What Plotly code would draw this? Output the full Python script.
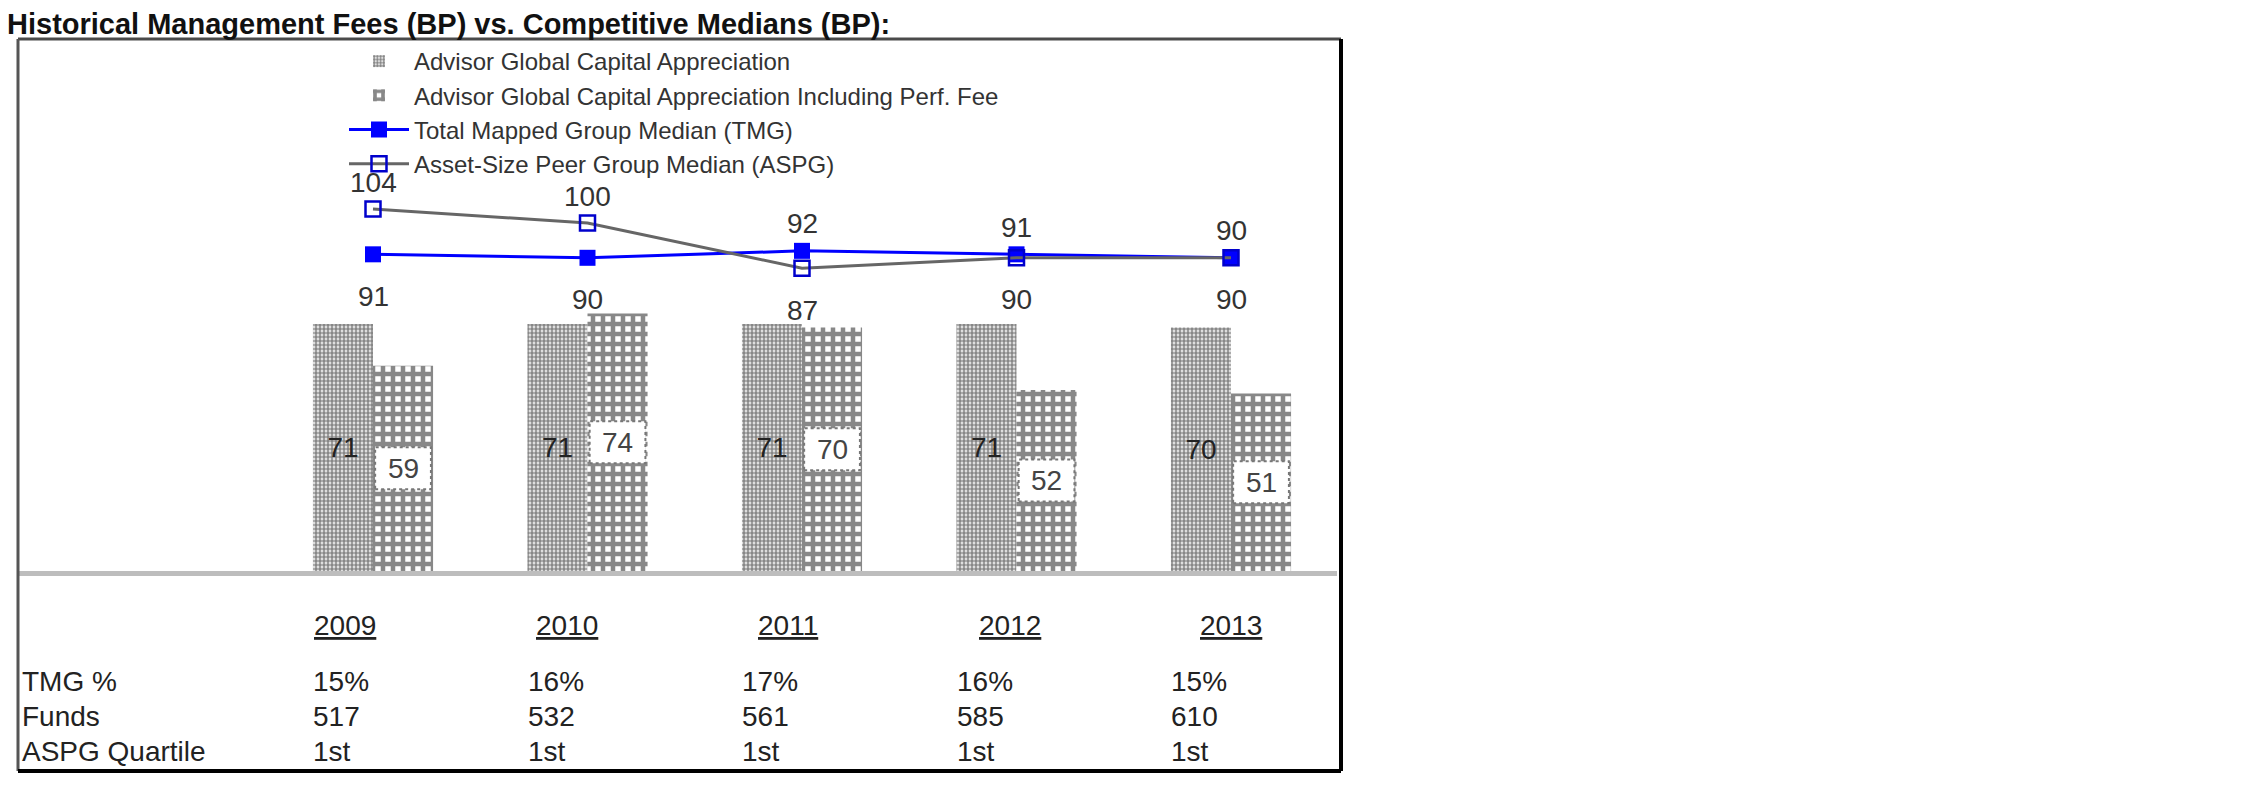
import plotly.graph_objects as go

# ---------------- data ----------------
years = ["2009", "2010", "2011", "2012", "2013"]
agca = [71, 71, 71, 71, 70]                 # Advisor Global Capital Appreciation
agca_perf = [59, 74, 70, 52, 51]            # ... Including Perf. Fee
tmg_median = [91, 90, 92, 91, 90]           # Total Mapped Group Median
aspg_median = [104, 100, 87, 90, 90]        # Asset-Size Peer Group Median
tmg_pct = ["15%", "16%", "17%", "16%", "15%"]
funds = ["517", "532", "561", "585", "610"]
aspg_quartile = ["1st", "1st", "1st", "1st", "1st"]
row_labels = ["TMG %", "Funds", "ASPG Quartile"]

FONT = "Liberation Sans, Arial, sans-serif"
PAGE_W, PAGE_H = 2250, 796
OFF = 8                       # default body margin of the html page
W, H = PAGE_W - 2 * OFF, PAGE_H - 2 * OFF

# frame in page pixels (layout only)
box_l, box_r, box_t, box_b = 18, 1341, 39, 771
plot_r, base_y = 1337, 571
px_per_cat, first_center = 214.5, 373
px_per_unit = 3.48

bw = box_r - box_l
bh = box_b - box_t
def py(y):  # page pixel y -> paper y
    return (box_b - y) / bh
def pxp(x):  # page pixel x -> paper x
    return (x - box_l) / bw

xs = list(range(len(years)))
x_lo = -(first_center - box_l) / px_per_cat
x_hi = (plot_r - first_center) / px_per_cat
y_hi = (base_y - box_t) / px_per_unit

fig = go.Figure()

fig.add_trace(go.Bar(
    x=xs, y=agca, name="Advisor Global Capital Appreciation",
    marker=dict(color="white", line=dict(width=0),
                pattern=dict(shape=".", fgcolor="#111111", bgcolor="white",
                             size=4, solidity=0.7)),
    text=[str(v) for v in agca], textposition="inside", insidetextanchor="middle",
    textfont=dict(family=FONT, size=28, color="#222222"), textangle=0,
    customdata=years, hovertemplate="%{customdata}: %{y}<extra></extra>",
))
fig.add_trace(go.Bar(
    x=xs, y=agca_perf, name="Advisor Global Capital Appreciation Including Perf. Fee",
    marker=dict(color="white", line=dict(width=0),
                pattern=dict(shape="+", fgcolor="#111111", bgcolor="white",
                             size=10, solidity=0.7)),
    customdata=years, hovertemplate="%{customdata}: %{y}<extra></extra>",
))
fig.add_trace(go.Scatter(
    x=xs, y=tmg_median, name="Total Mapped Group Median (TMG)", mode="lines+markers",
    line=dict(color="#0000ff", width=3),
    marker=dict(symbol="square", size=16, color="#0000ff"),
    customdata=years, hovertemplate="%{customdata}: %{y}<extra></extra>",
))
fig.add_trace(go.Scatter(
    x=xs, y=aspg_median, name="Asset-Size Peer Group Median (ASPG)", mode="lines+markers",
    line=dict(color="#666666", width=3),
    marker=dict(symbol="square-open", size=15, color="#0000cc", line=dict(width=2.5)),
    customdata=years, hovertemplate="%{customdata}: %{y}<extra></extra>",
))

ann = []
shapes = []
LBL = dict(family=FONT, size=28, color="#333333")

# labels for the two median lines (higher above, lower below)
for i, (a, b) in enumerate(zip(tmg_median, aspg_median)):
    hi, lo = max(a, b), min(a, b)
    ann.append(dict(x=xs[i], y=hi, xref="x", yref="y", text=str(hi), showarrow=False,
                    yshift=27, font=LBL))
    ann.append(dict(x=xs[i], y=lo, xref="x", yref="y", text=str(lo), showarrow=False,
                    yshift=-42, font=LBL))

# white boxed labels for the perf-fee bars
bar_w = (1 - 0.44) / 2
for i, v in enumerate(agca_perf):
    cx = xs[i] + bar_w / 2
    shapes.append(dict(type="rect", xref="x", yref="y", layer="above",
                       x0=cx - bar_w / 2 + 0.01, x1=cx + bar_w / 2 - 0.01,
                       ysizemode="pixel", yanchor=v / 2, y0=-21, y1=21,
                       fillcolor="white", line=dict(color="#777777", width=2, dash="dot")))
    ann.append(dict(x=cx, y=v / 2, xref="x", yref="y", text=str(v), showarrow=False,
                    font=dict(family=FONT, size=28, color="#444444")))

# year headers (underlined)
for i, yr in enumerate(years):
    ann.append(dict(x=xs[i], y=py(625), xref="x", yref="paper", text="<u>" + yr + "</u>",
                    showarrow=False, xshift=-28 + 7 * i, yanchor="middle",
                    font=dict(family=FONT, size=28, color="#222222")))

# table rows
rows = [tmg_pct, funds, aspg_quartile]
row_y = [681, 716, 751]
for lab, vals, ry in zip(row_labels, rows, row_y):
    ann.append(dict(x=pxp(20), y=py(ry), xref="paper", yref="paper", text=lab,
                    showarrow=False, xanchor="left", yanchor="middle",
                    font=dict(family=FONT, size=28, color="#222222")))
    for i, v in enumerate(vals):
        ann.append(dict(x=xs[i], y=py(ry), xref="x", yref="paper", text=v,
                        showarrow=False, xanchor="left", yanchor="middle", xshift=-62,
                        font=dict(family=FONT, size=28, color="#222222")))

# title (sits just above the frame)
ann.append(dict(x=pxp(6), y=py(41), xref="paper", yref="paper", xanchor="left",
                yanchor="bottom", borderpad=0,
                text="<b>Historical Management Fees (BP) vs. Competitive Medians (BP):</b>",
                showarrow=False, font=dict(family=FONT, size=29, color="#111111")))

# frame (3D style border)
shapes += [
    dict(type="line", xref="paper", yref="paper", x0=0, x1=1, y0=1, y1=1,
         line=dict(color="#4a4a4a", width=3)),
    dict(type="line", xref="paper", yref="paper", x0=0, x1=0, y0=0, y1=1,
         line=dict(color="#555555", width=3)),
    dict(type="line", xref="paper", yref="paper", x0=1, x1=1, y0=0, y1=1,
         line=dict(color="#000000", width=4)),
    dict(type="line", xref="paper", yref="paper", x0=0, x1=1, y0=0, y1=0,
         line=dict(color="#000000", width=4)),
]

fig.update_layout(
    width=W, height=H,
    margin=dict(l=box_l - OFF, r=W - (box_r - OFF), t=box_t - OFF, b=H - (box_b - OFF)),
    paper_bgcolor="white", plot_bgcolor="rgba(0,0,0,0)",
    barmode="group", bargap=0.44, bargroupgap=0,
    showlegend=True,
    legend=dict(x=pxp(344), y=py(39), xanchor="left", yanchor="top",
                bgcolor="rgba(0,0,0,0)", itemwidth=60, traceorder="normal",
                font=dict(family=FONT, size=24, color="#333333")),
    xaxis=dict(domain=[0, (plot_r - box_l) / bw], range=[x_lo, x_hi],
               showticklabels=False, ticks="", showgrid=False, zeroline=False,
               showline=True, linecolor="#bdbdbd", linewidth=5, fixedrange=True),
    yaxis=dict(domain=[py(base_y), 1], range=[0, y_hi], visible=False,
               showgrid=False, zeroline=False, fixedrange=True),
    annotations=ann, shapes=shapes,
    font=dict(family=FONT),
)

fig.write_html("out.html")
